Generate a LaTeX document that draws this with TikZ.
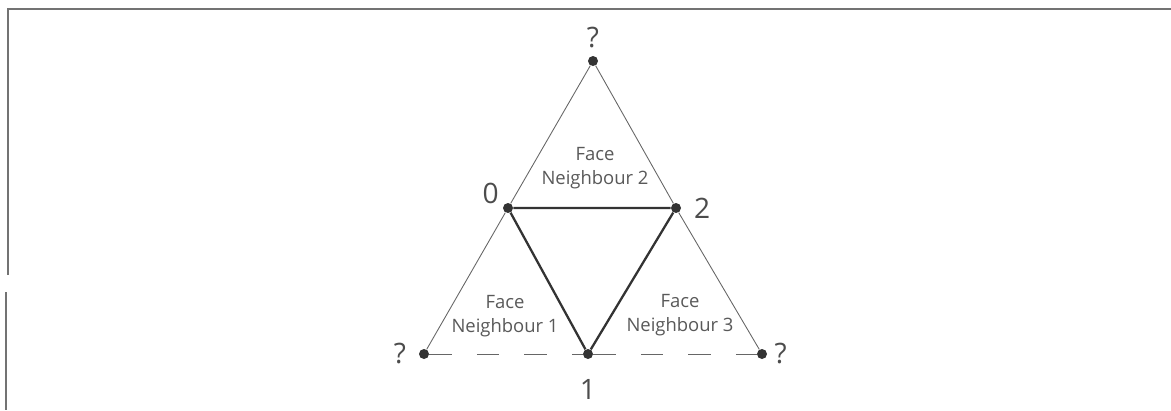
\documentclass[tikz,border=0pt]{standalone}
\usepackage{fontspec}
\setmainfont{Open Sans}
\usepackage{tikz}
\usetikzlibrary{positioning}

\begin{document}
\begin{tikzpicture}[
    x=0.02cm, y=-0.02cm,
    vert/.style={circle, fill=black!80, inner sep=0pt, minimum size=0.2cm},
    outer/.style={draw=black!60, line width=0.5pt},
    inner/.style={draw=black!80, line width=1.3pt},
    gap/.style={outer, dash pattern=on 0.45cm off 0.5cm},
    frame/.style={draw=black!55, line width=1pt},
    facelbl/.style={font=\fontsize{10.5}{14}\selectfont, align=center, text=black!65, inner sep=1pt},
    idx/.style={font=\fontsize{16}{19}\selectfont, text=black!70, inner sep=1pt}
  ]
    \useasboundingbox (0,0) rectangle (1171,410);
    % frame remains
    \coordinate (fa) at (1171,9);
    \coordinate (fb) at (8,9);
    \coordinate (fc) at (8,275);
    \coordinate (fd) at (6,292);
    \coordinate (fe) at (6,410);
    \draw[frame] (fa) -- (fb) -- (fc);
    \draw[frame] (fd) -- (fe);

    \node[vert] (v0) at (508,208) {};
    \node[vert] (v1) at (588,354) {};
    \node[vert] (v2) at (676,208) {};
    \node[vert] (qt) at (593,61) {};
    \node[vert] (ql) at (424,354) {};
    \node[vert] (qr) at (762,354) {};

    \node[idx, above left=-1pt and 2pt of v0] (l0) {0};
    \node[idx, right=6pt of v2] (l2) {2};
    \node[idx, below=10pt of v1] (l1) {1};
    \node[idx, above=3pt of qt] (lt) {?};
    \node[idx, left=6pt of ql] (ll) {?};
    \node[idx, right=3pt of qr] (lr) {?};

    \draw[outer] (v0) -- (qt) -- (v2);
    \draw[outer] (v0) -- (ql);
    \draw[outer] (v2) -- (qr);
    \draw[gap] (ql) -- (v1);
    \draw[gap] (v1) -- (qr);
    \draw[inner] (v0) -- (v2) -- (v1) -- (v0);

    \node[facelbl] (f2) at (595,168) {Face\\Neighbour 2};
    \node[facelbl] (f1) at (505,316) {Face\\Neighbour 1};
    \node[facelbl] (f3) at (680,315) {Face\\Neighbour 3};
\end{tikzpicture}
\end{document}
